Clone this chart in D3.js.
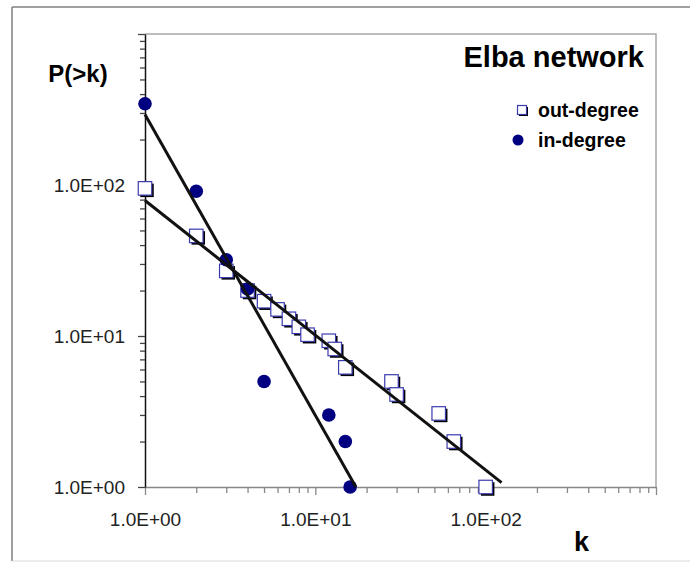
<!DOCTYPE html>
<html><head><meta charset="utf-8">
<script src="https://cdn.jsdelivr.net/npm/d3@7/dist/d3.min.js"></script>
<style>body{margin:0;background:#fff}svg{display:block;font-family:"Liberation Sans",Arial,sans-serif}</style>
</head><body>
<svg id="c" width="690" height="563"></svg>
<script>
// ---- data ----
const outK = [1, 2, 3, 4, 5, 6, 7, 8, 9, 12, 13, 15, 28, 30, 53, 65, 100];
const outP = [95, 46, 27, 20, 17, 15, 13, 11.5, 10.2, 9.3, 8.2, 6.2, 5, 4.1, 3.07, 2, 1];
const inK = [1, 2, 3, 4, 5, 12, 15, 16];
const inP = [345, 91, 32, 20.5, 5, 3, 2, 1];
const outFitK = [1, 124];
const outFitP = [79, 1.07];
const inFitK = [1, 17.3];
const inFitP = [293, 1];
const xTickLabels = ["1.0E+00", "1.0E+01", "1.0E+02"];
const yTickLabels = ["1.0E+00", "1.0E+01", "1.0E+02"];
const seriesNames = ["out-degree", "in-degree"];
const title = "Elba network";

const svg = d3.select("#c");
const L = 145, R = 656, T = 34, B = 487;
const x = d3.scaleLog().domain([1, 1000]).range([L, R]);
const y = d3.scaleLog().domain([1, 1000]).range([B, T]);

// outer frame
svg.append("line").attr("x1", 12).attr("x2", 12).attr("y1", 7).attr("y2", 561).attr("stroke", "#808080").attr("stroke-width", 1.5);
svg.append("line").attr("x1", 12).attr("x2", 690).attr("y1", 7).attr("y2", 7).attr("stroke", "#808080").attr("stroke-width", 1.5);
svg.append("line").attr("x1", 12).attr("x2", 690).attr("y1", 561).attr("y2", 561).attr("stroke", "#d8d8d8").attr("stroke-width", 1);

// plot border (top, right)
svg.append("path").attr("d", `M${L},${T}H${R}V${B}`).attr("fill", "none").attr("stroke", "#a8a8a8").attr("stroke-width", 1.5);

const minorVals = [];
for (let e = 0; e < 3; e++) for (let m = 1; m < 10; m++) minorVals.push(m * Math.pow(10, e));
minorVals.push(1000);
const isMajor = v => Math.abs(Math.log10(v) - Math.round(Math.log10(v))) < 1e-9;
const labelFor = (v, labels) => { const i = Math.round(Math.log10(v)); return isMajor(v) && i < labels.length ? labels[i] : ""; };

// x axis
const gx = svg.append("g").attr("transform", `translate(0,${B})`)
  .call(d3.axisBottom(x).tickValues(minorVals).tickSize(0).tickFormat(""));
gx.select(".domain").attr("stroke", "#888").attr("stroke-width", 1.5);
gx.selectAll(".tick").append("line").attr("y2", d => isMajor(d) ? 8 : 6).attr("stroke", "#888").attr("stroke-width", 1.3);
gx.selectAll(".tick").append("text").attr("y", 39).attr("text-anchor", "middle")
  .attr("fill", "#222").style("font-size", "19px").text(d => labelFor(d, xTickLabels));

// y axis
const gy = svg.append("g").attr("transform", `translate(${L},0)`)
  .call(d3.axisLeft(y).tickValues(minorVals).tickSize(0).tickFormat(""));
gy.select(".domain").attr("stroke", "#111").attr("stroke-width", 1.5);
gy.selectAll(".tick").append("line").attr("x2", d => isMajor(d) ? -7 : -5).attr("stroke", "#444").attr("stroke-width", 1.3);
gy.selectAll(".tick").append("text").attr("x", -20).attr("dy", "0.33em").attr("text-anchor", "end")
  .attr("fill", "#222").style("font-size", "19px").text(d => labelFor(d, yTickLabels));

// markers
const S = 13.5;
const outData = outK.map((k, i) => ({ k, p: outP[i] }));
const inData = inK.map((k, i) => ({ k, p: inP[i] }));
const sq = svg.append("g").selectAll("g").data(outData).join("g")
  .attr("transform", d => `translate(${x(d.k)},${y(d.p)})`);
sq.append("rect").attr("x", -S / 2 + 2).attr("y", -S / 2 + 2).attr("width", S).attr("height", S).attr("fill", "#000");
sq.append("rect").attr("x", -S / 2).attr("y", -S / 2).attr("width", S).attr("height", S).attr("fill", "#fff").attr("stroke", "#3b3bb0").attr("stroke-width", 1.2);
svg.append("g").selectAll("circle").data(inData).join("circle")
  .attr("cx", d => x(d.k)).attr("cy", d => y(d.p)).attr("r", 6.8).attr("fill", "#000080");

// fit lines
const line = d3.line().x(d => x(d[0])).y(d => y(d[1]));
svg.append("path").attr("d", line(outFitK.map((k, i) => [k, outFitP[i]]))).attr("stroke", "#111").attr("stroke-width", 3).attr("fill", "none");
svg.append("path").attr("d", line(inFitK.map((k, i) => [k, inFitP[i]]))).attr("stroke", "#111").attr("stroke-width", 3).attr("fill", "none");

// texts
svg.append("text").attr("x", 644).attr("y", 67).attr("text-anchor", "end").attr("font-weight", "bold").style("font-size", "29px").attr("fill", "#000").text(title);
svg.append("text").attr("x", 78).attr("y", 82).attr("text-anchor", "middle").attr("font-weight", "bold").style("font-size", "24px").attr("fill", "#000").text("P(>k)");
svg.append("text").attr("x", 581.5).attr("y", 551).attr("text-anchor", "middle").attr("font-weight", "bold").style("font-size", "27px").attr("fill", "#000").text("k");

// legend
const lg = svg.append("g");
lg.append("rect").attr("x", 519).attr("y", 107).attr("width", 9).attr("height", 9).attr("fill", "#000");
lg.append("rect").attr("x", 517.5).attr("y", 105.5).attr("width", 9).attr("height", 9).attr("fill", "#fff").attr("stroke", "#3b3bb0").attr("stroke-width", 1.2);
lg.append("circle").attr("cx", 518).attr("cy", 140).attr("r", 5.5).attr("fill", "#000080");
lg.append("text").attr("x", 538).attr("y", 110).attr("dy", "0.35em").attr("font-weight", "bold").style("font-size", "19.5px").attr("fill", "#000").text(seriesNames[0]);
lg.append("text").attr("x", 538).attr("y", 140).attr("dy", "0.35em").attr("font-weight", "bold").style("font-size", "19.5px").attr("fill", "#000").text(seriesNames[1]);
</script>
</body></html>
